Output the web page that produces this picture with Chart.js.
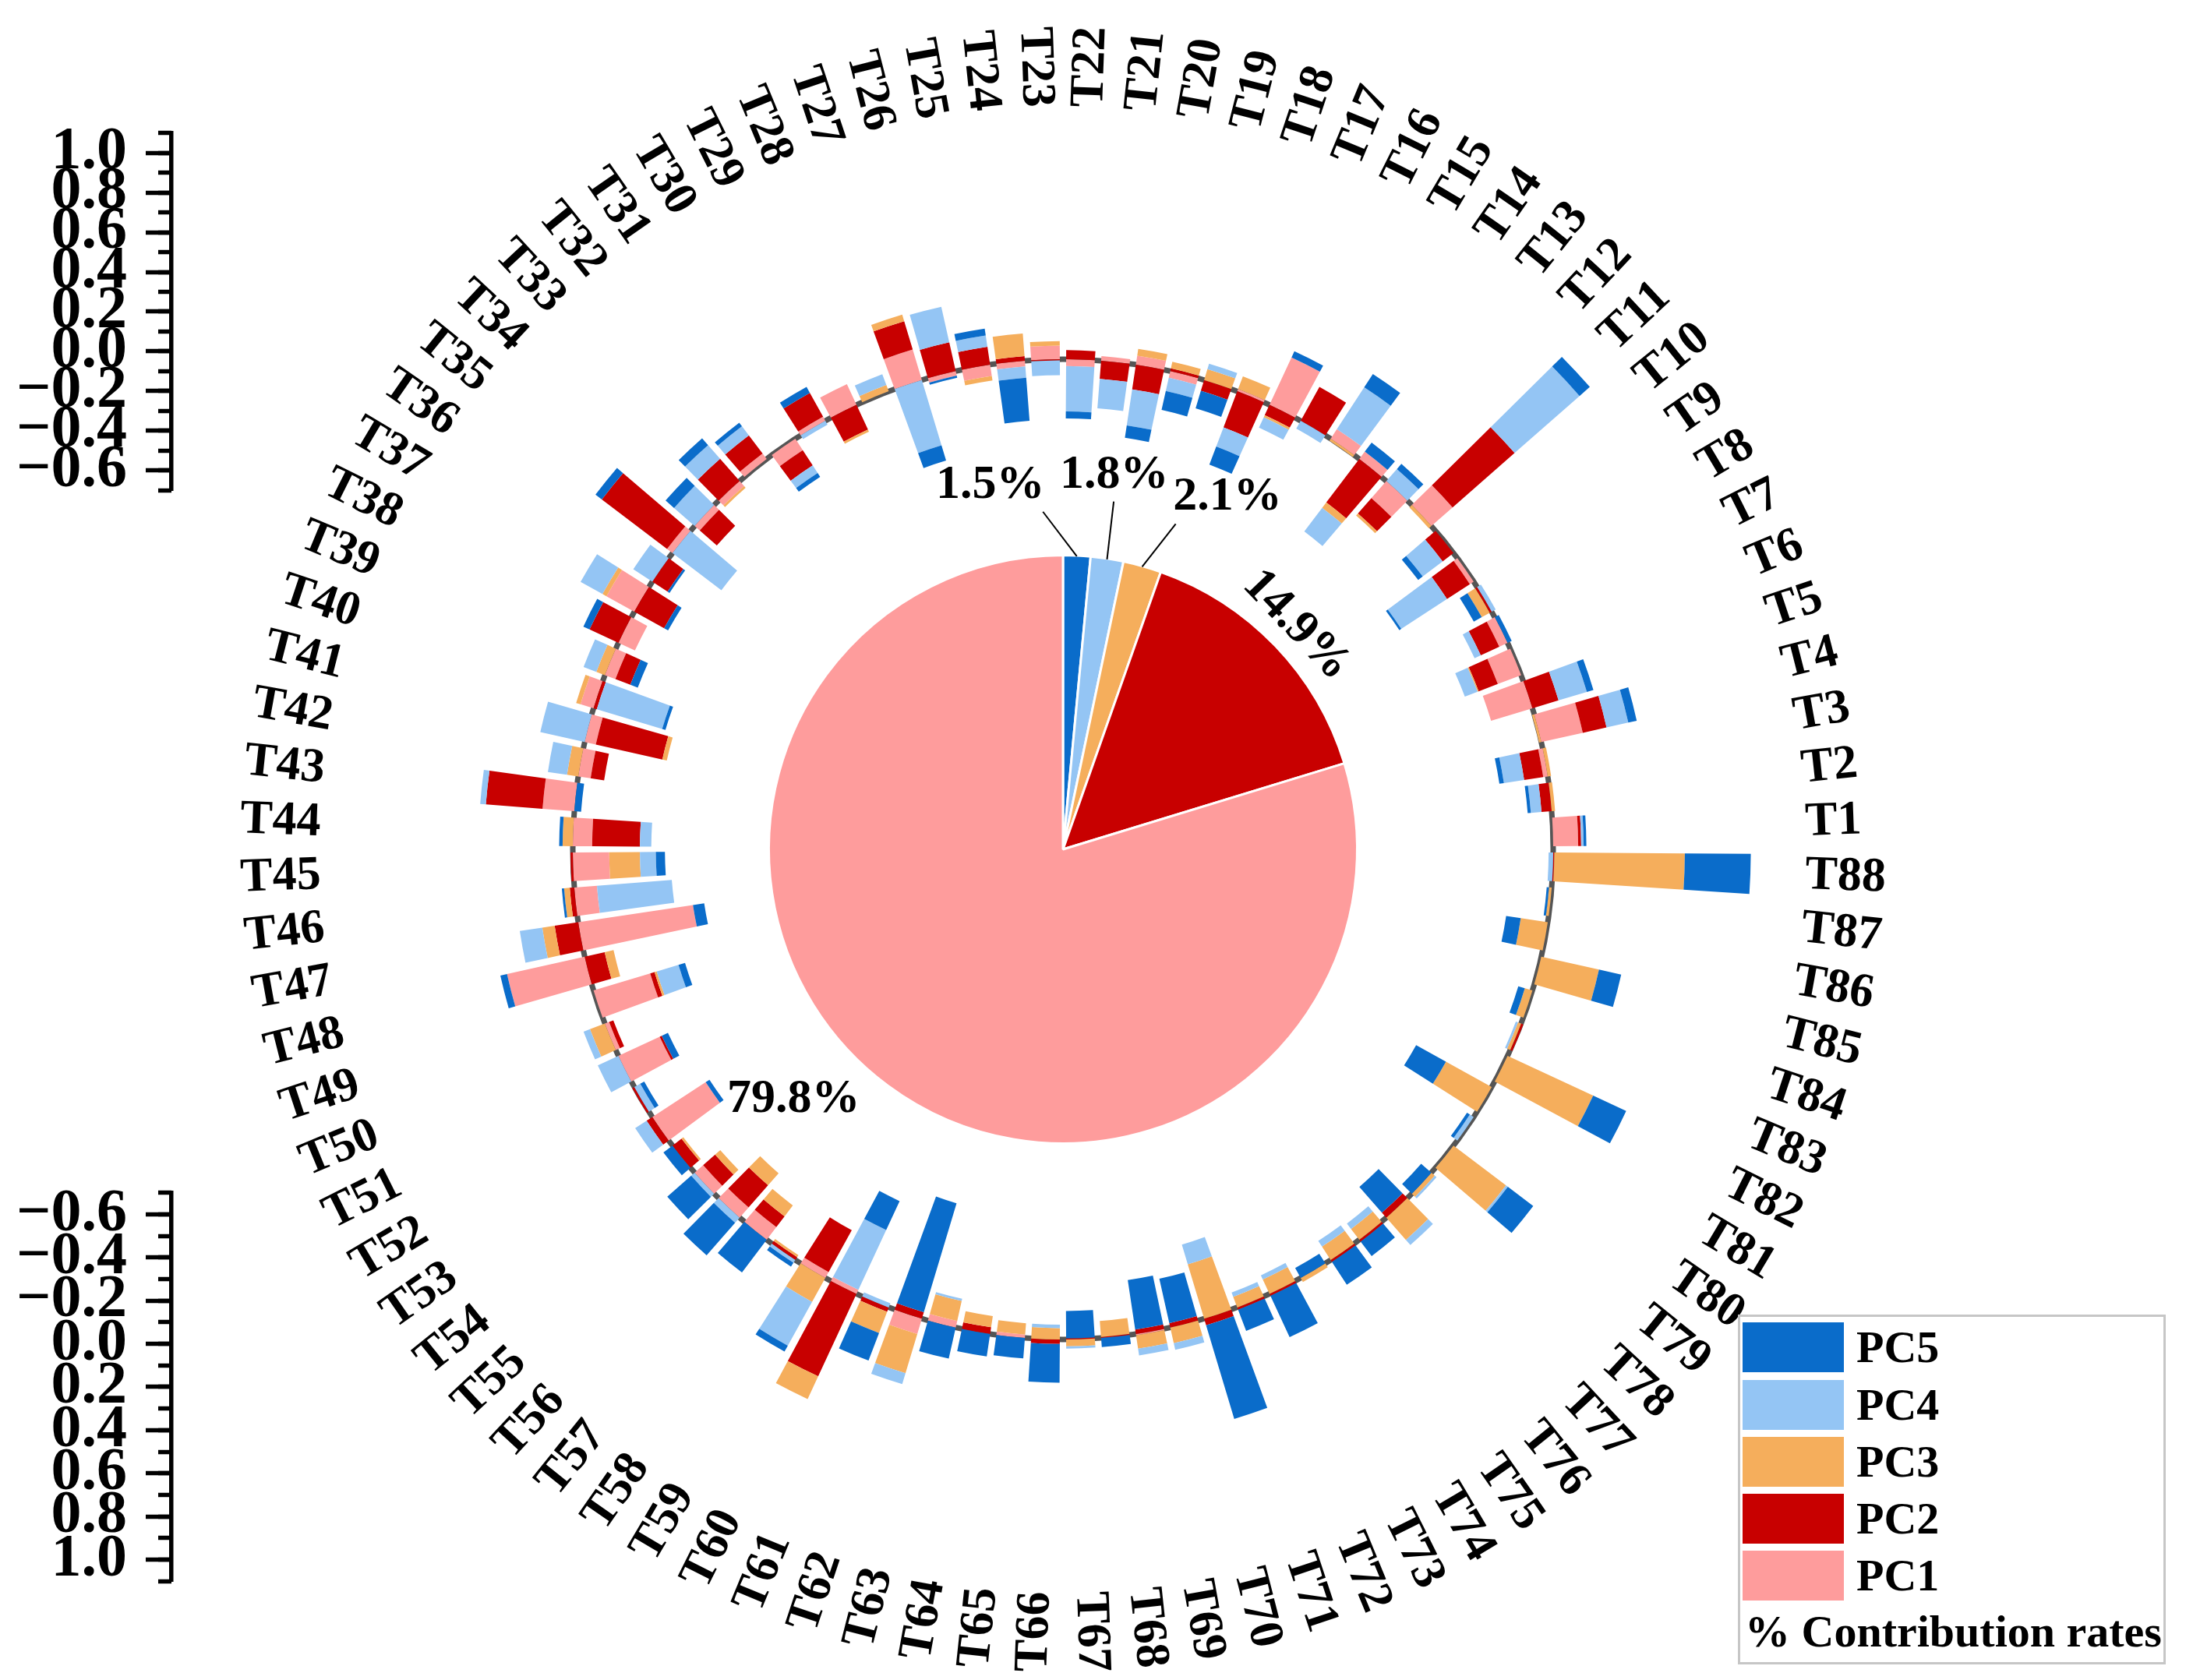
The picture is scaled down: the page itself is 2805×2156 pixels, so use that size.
<!DOCTYPE html>
<html>
<head>
<meta charset="utf-8">
<title>PC contribution rates</title>
<script src="https://cdn.jsdelivr.net/npm/chart.js@4.4.0/dist/chart.umd.min.js"></script>
<style>
  html, body { margin: 0; padding: 0; background: #fff; }
  #page { position: relative; width: 2805px; height: 2156px; overflow: hidden; background: #fff; }
  #page canvas { position: absolute; }
  #ring { left: 0; top: 0; }
  #pie { left: 804px; top: 530px; }
  #axisTop { left: 0; top: 100px; }
  #axisBottom { left: 0; top: 1460px; }
  #legend { position: absolute; left: 2230px; top: 1687px; width: 549px; height: 449px; box-sizing: border-box;
            border: 3px solid #c6c6c6; font: bold 58px "Liberation Serif", serif; color: #000; }
  #legend .sw { position: absolute; left: 3px; width: 130px; height: 64px; }
  #legend .tx { position: absolute; left: 149px; line-height: 58px; white-space: nowrap; }
  #legend .title { position: absolute; left: 6px; top: 375px; line-height: 58px; white-space: nowrap; }
</style>
</head>
<body>
<div id="page">
  <canvas id="ring" width="2805" height="2156"></canvas>
  <canvas id="pie" width="1120" height="1120"></canvas>
  <canvas id="axisTop" width="300" height="600"></canvas>
  <canvas id="axisBottom" width="300" height="640"></canvas>
  <div id="legend"></div>
</div>
<script>
// ---- data ----
const CATEGORIES = ['T1','T2','T3','T4','T5','T6','T7','T8','T9','T10',
  'T11','T12','T13','T14','T15','T16','T17','T18','T19','T20',
  'T21','T22','T23','T24','T25','T26','T27','T28','T29','T30',
  'T31','T32','T33','T34','T35','T36','T37','T38','T39','T40',
  'T41','T42','T43','T44','T45','T46','T47','T48','T49','T50',
  'T51','T52','T53','T54','T55','T56','T57','T58','T59','T60',
  'T61','T62','T63','T64','T65','T66','T67','T68','T69','T70',
  'T71','T72','T73','T74','T75','T76','T77','T78','T79','T80',
  'T81','T82','T83','T84','T85','T86','T87','T88'];

const SERIES_NAMES  = ['PC1', 'PC2', 'PC3', 'PC4', 'PC5'];
const SERIES_COLORS = ['#fe9c9c', '#c80000', '#f5ae5c', '#94c5f4', '#0a6cca'];

const PC1 = [ .11, 0, -.02, .187, -.19, -.11, -.04, 0, -.02, 0,
  .124, -.10, .04, .05, 0, .23, .01, 0, -.03, .04,
  .02, -.03, .06, -.025, -.05, -.02, .14, 0, .10, .02,
  -.06, .03, -.03, -.03, .03, 0, .14, -.08, -.05, .06,
  -.05, -.055, .14, -.085, -.16, -.10, -.51, .35, -.26, -.02,
  -.20, 0, -.28, 0, -.05, -.06, -.07, 0, -.03, -.02,
  0, .07, -.03, 0, -.015, 0, 0, 0, .005, 0,
  0, 0, 0, 0, 0, 0, 0, 0, 0, 0,
  0, 0, 0, 0, 0, 0, 0, 0 ];
const PC2 = [ .013, -.045, -.085, .107, .12, -.09, -.09, -.01, -.12, -.06,
  .363, -.09, -.24, 0, .17, -.05, -.17, -.05, .012, -.11,
  -.08, .04, -.005, .02, .08, .13, .13, 0, -.12, .12,
  -.08, .10, .13, -.10, .36, -.08, -.15, .14, -.07, -.015,
  -.30, -.06, .25, -.21, .01, .02, .105, -.09, -.02, -.02,
  -.01, .01, .03, -.05, -.07, -.13, -.06, -.015, -.21, .40,
  .02, -.03, 0, -.03, 0, .02, -.005, -.005, -.02, -.02,
  .03, .01, .01, 0, .01, .01, -.03, 0, 0, 0,
  0, 0, .01, 0, 0, 0, 0, .005 ];
const PC3 = [ 0, .015, .015, -.01, 0, -.005, 0, -.04, 0, 0,
  -.015, -.012, -.03, -.01, 0, -.01, .06, .05, .03, .03,
  0, 0, .02, .10, -.02, 0, .03, .03, -.01, 0,
  0, 0, -.01, 0, 0, 0, .02, 0, .04, .02,
  -.02, .05, 0, .045, -.135, .025, .055, -.04, -.01, .07,
  0, 0, 0, -.01, -.03, -.07, -.06, -.01, .12, .11,
  .10, .18, -.09, -.05, -.05, -.05, .03, -.07, .06, .07,
  -.25, -.05, -.07, .02, -.07, -.06, .13, .02, .29, 0,
  -.23, .415, -.015, -.035, .26, -.12, -.012, .574 ];
const PC4 = [ .011, -.047, -.09, .098, .13, -.06, -.03, .02, -.24, -.11,
  .38, .07, -.13, .22, -.04, -.05, -.09, .025, -.06, -.16,
  -.13, -.20, -.065, -.05, .05, .16, -.30, .05, 0, -.02,
  -.04, .05, .08, .12, -.27, .10, .11, 0, .06, -.30,
  .20, .085, .025, -.05, -.07, -.33, .10, 0, -.10, .03,
  .10, -.03, .06, 0, .02, .03, 0, .015, .22, -.29,
  -.02, .05, -.01, 0, 0, -.015, .01, 0, .03, .03,
  -.09, -.02, -.02, 0, -.03, -.03, .03, .01, .01, -.02,
  0, 0, -.01, 0, 0, 0, 0, -.02 ];
const PC5 = [ .012, -.014, -.02, .038, .03, 0, .02, -.04, -.01, -.025,
  .06, .03, .05, .07, 0, .03, -.085, -.08, -.085, -.055,
  0, -.03, 0, -.19, .03, -.01, -.07, 0, 0, .03,
  -.02, .02, .04, .05, .035, -.01, -.02, .03, -.035, -.015,
  0, 0, -.03, .015, -.04, .01, -.05, .03, -.03, 0,
  -.03, -.02, -.02, .05, .14, .19, .18, .02, .03, -.14,
  .13, -.50, .14, .10, .09, .17, -.12, .04, -.22, -.20,
  .43, .10, .20, -.05, .12, .08, -.15, -.06, .14, -.015,
  -.15, .16, 0, -.03, .10, -.065, -.01, .29 ];
const SERIES = [PC1, PC2, PC3, PC4, PC5];

// pie: % contribution rates
const PIE_LABELS = ['PC5', 'PC4', 'PC3', 'PC2', 'PC1'];
const PIE_VALUES = [1.5, 1.8, 2.1, 14.9, 79.8];
const PIE_COLORS = ['#0a6cca', '#94c5f4', '#f5ae5c', '#c80000', '#fe9c9c'];

// the two vertical value scales on the left
const AXIS_TICKS = [-0.6, -0.4, -0.2, 0.0, 0.2, 0.4, 0.6, 0.8, 1.0];
const AXIS_MIN = -0.7, AXIS_MAX = 1.1;

// ---- layout ----
const FONT = '"Liberation Serif", serif';
const R_MIN = -2.1555, R_MAX = 1.1;   // puts value 0 on a 629px circle
const BAR_FILL = 0.82;                  // share of each angular slot used by a bar
const AXIS_X = 220;

// where the pie's percent labels sit (angle from 12 o'clock, radius)
const PIE_TEXT = [
  { deg: -11.3, r: 476, line: [-3.4, 434] },
  { deg: 7.8, r: 484, line: [8.3, 451] },
  { deg: 25.0, r: 499, line: [19.1, 442] },
  { r: 415, along: true },
  { deg: 227.1, r: 472 }
];

// stacked bars round the circle, + outward, - inward
const ringBars = {
  id: 'ringBars',
  beforeDatasetsDraw(chart) {
    const s = chart.scales.r, ctx = chart.ctx;
    const cx = s.xCenter, cy = s.yCenter;
    ctx.save();
    ctx.beginPath();
    ctx.arc(cx, cy, s.getDistanceFromCenterForValue(0), 0, Math.PI * 2);
    ctx.lineWidth = 7;
    ctx.strokeStyle = '#555555';
    ctx.stroke();

    const n = chart.data.labels.length;
    const half = Math.PI / n * BAR_FILL;
    for (let j = 0; j < n; j++) {
      const a = s.getIndexAngle(j) - Math.PI / 2;
      let up = 0, down = 0;
      chart.data.datasets.forEach(ds => {
        const v = ds.data[j];
        if (!v) return;
        let from, to;
        if (v > 0) { from = up; up += v; to = up; }
        else { from = down; down += v; to = down; }
        const r1 = s.getDistanceFromCenterForValue(from);
        const r2 = s.getDistanceFromCenterForValue(to);
        ctx.beginPath();
        ctx.arc(cx, cy, Math.max(r1, r2), a - half, a + half);
        ctx.arc(cx, cy, Math.min(r1, r2), a + half, a - half, true);
        ctx.closePath();
        ctx.fillStyle = ds.backgroundColor;
        ctx.fill();
      });
    }
    ctx.restore();
  }
};

// T labels, turned along the radius and kept readable
const ringLabels = {
  id: 'ringLabels',
  afterDraw(chart) {
    const s = chart.scales.r, ctx = chart.ctx;
    ctx.save();
    ctx.font = 'bold 62px ' + FONT;
    ctx.fillStyle = '#000';
    ctx.textBaseline = 'middle';
    chart.data.labels.forEach((lab, j) => {
      const p = s.getPointPosition(j, s.drawingArea + 3);
      ctx.save();
      ctx.translate(p.x, p.y);
      if (Math.cos(p.angle) >= 0) { ctx.rotate(p.angle); ctx.textAlign = 'left'; }
      else { ctx.rotate(p.angle + Math.PI); ctx.textAlign = 'right'; }
      ctx.fillText(lab, 0, 0);
      ctx.restore();
    });
    ctx.restore();
  }
};

new Chart(document.getElementById('ring'), {
  type: 'radar',
  data: {
    labels: CATEGORIES.slice().reverse(),   // radial scale runs clockwise, T1..T88 run the other way
    datasets: SERIES.map((vals, k) => ({
      label: SERIES_NAMES[k],
      data: vals.slice().reverse(),
      backgroundColor: SERIES_COLORS[k],
      borderColor: SERIES_COLORS[k],
      borderWidth: 0,
      pointRadius: 0,
      showLine: false,
      fill: false
    }))
  },
  options: {
    responsive: false,
    animation: false,
    devicePixelRatio: 1,
    layout: { padding: { left: 414, right: 491, top: 140, bottom: 116 } },
    plugins: { legend: { display: false }, tooltip: { enabled: false } },
    scales: {
      r: {
        min: R_MIN, max: R_MAX,
        startAngle: 90 + 180 / CATEGORIES.length,
        grid: { display: false },
        angleLines: { display: false },
        ticks: { display: false },
        pointLabels: { display: false }
      }
    }
  },
  plugins: [ringBars, ringLabels]
});

// ---- pie in the middle ----
const pieLabels = {
  id: 'pieLabels',
  afterDatasetsDraw(chart) {
    const ctx = chart.ctx, meta = chart.getDatasetMeta(0);
    const at = (x, y, deg, r) => {
      const a = (deg - 90) * Math.PI / 180;
      return [x + r * Math.cos(a), y + r * Math.sin(a)];
    };
    ctx.save();
    ctx.font = 'bold 62px ' + FONT;
    ctx.fillStyle = '#000';
    ctx.strokeStyle = '#000';
    ctx.lineWidth = 2;
    ctx.textAlign = 'center';
    ctx.textBaseline = 'middle';
    meta.data.forEach((arc, i) => {
      const p = arc.getProps(['x', 'y', 'startAngle', 'endAngle', 'outerRadius'], true);
      const mid = (p.startAngle + p.endAngle) / 2;
      const midDeg = mid * 180 / Math.PI + 90;
      const spec = PIE_TEXT[i];
      const txt = chart.data.datasets[0].data[i].toFixed(1) + '%';
      if (spec.line) {
        const a = at(p.x, p.y, midDeg, p.outerRadius - 1);
        const b = at(p.x, p.y, spec.line[0], spec.line[1]);
        ctx.beginPath(); ctx.moveTo(a[0], a[1]); ctx.lineTo(b[0], b[1]); ctx.stroke();
      }
      if (spec.along) {
        const c = at(p.x, p.y, midDeg, spec.r);
        ctx.save();
        ctx.translate(c[0], c[1]);
        ctx.rotate(mid + Math.PI / 2);
        ctx.fillText(txt, 0, 0);
        ctx.restore();
      } else {
        const c = at(p.x, p.y, spec.deg, spec.r);
        ctx.fillText(txt, c[0], c[1]);
      }
    });
    ctx.restore();
  }
};

new Chart(document.getElementById('pie'), {
  type: 'pie',
  data: {
    labels: PIE_LABELS,
    datasets: [{ data: PIE_VALUES, backgroundColor: PIE_COLORS, borderColor: '#ffffff', borderWidth: 3 }]
  },
  options: {
    responsive: false,
    animation: false,
    devicePixelRatio: 1,
    layout: { padding: 181 },
    plugins: { legend: { display: false }, tooltip: { enabled: false } }
  },
  plugins: [pieLabels]
});

// ---- left value scales ----
function buildAxis(id, reverse, padTop, padBottom) {
  const isMajor = v => AXIS_TICKS.some(t => Math.abs(t - v) < 1e-6);
  const fmt = v => (v < -1e-9 ? '\u2212' : '') + Math.abs(v).toFixed(1);
  return new Chart(document.getElementById(id), {
    type: 'line',
    data: { labels: [], datasets: [] },
    options: {
      responsive: false,
      animation: false,
      devicePixelRatio: 1,
      layout: { padding: { top: padTop, bottom: padBottom, left: 0, right: 0 } },
      plugins: { legend: { display: false }, tooltip: { enabled: false } },
      scales: {
        x: { display: false },
        y: {
          position: 'left', weight: 1,
          min: AXIS_MIN, max: AXIS_MAX, reverse,
          afterFit: s => { s.width = AXIS_X; },
          border: { display: true, color: '#000', width: 5.5 },
          grid: {
            drawOnChartArea: false, tickLength: 33, tickWidth: 5.5,
            tickColor: c => isMajor(c.tick.value) ? '#000' : 'rgba(0,0,0,0)'
          },
          ticks: {
            stepSize: 0.1, autoSkip: false, padding: 24, color: '#000',
            font: { family: FONT, weight: 'bold', size: 78 },
            callback: v => isMajor(v) ? fmt(v) : ''
          }
        },
        y2: {
          position: 'left', weight: 0,
          min: AXIS_MIN, max: AXIS_MAX, reverse,
          afterFit: s => { s.width = 0; },
          border: { display: false },
          grid: { drawOnChartArea: false, tickLength: 17, tickWidth: 5.5, tickColor: '#000' },
          ticks: { stepSize: 0.1, autoSkip: false, display: false }
        }
      }
    }
  });
}
buildAxis('axisTop', false, 40, 34.7);
buildAxis('axisBottom', true, 54.7, 60);

// ---- legend ----
const legend = document.getElementById('legend');
const LEGEND_TOPS = [7, 81, 154, 227, 300];
PIE_LABELS.forEach((name, i) => {
  const k = SERIES_NAMES.indexOf(name);
  const sw = document.createElement('div');
  sw.className = 'sw';
  sw.style.top = LEGEND_TOPS[i] + 'px';
  sw.style.background = SERIES_COLORS[k];
  legend.appendChild(sw);
  const tx = document.createElement('div');
  tx.className = 'tx';
  tx.style.top = (LEGEND_TOPS[i] + 3) + 'px';
  tx.textContent = name;
  legend.appendChild(tx);
});
const title = document.createElement('div');
title.className = 'title';
title.textContent = '% Contribution rates';
legend.appendChild(title);
</script>
</body>
</html>
